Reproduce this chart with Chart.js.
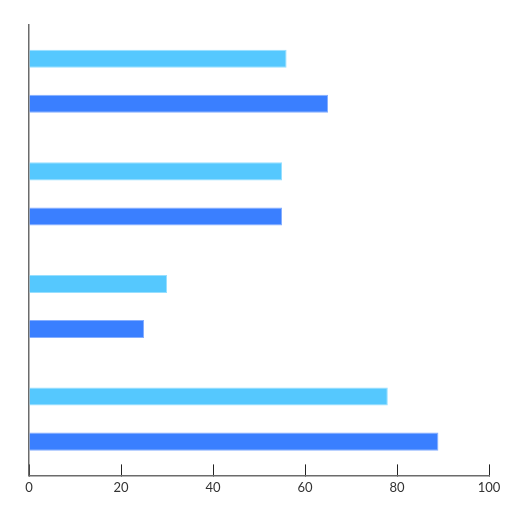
<!DOCTYPE html>
<html>
<head>
<meta charset="utf-8">
<script src="https://cdn.jsdelivr.net/npm/chart.js@4/dist/chart.umd.min.js"></script>
<style>
  html, body { margin: 0; padding: 0; background: #fff; }
  #wrap { width: 520px; height: 520px; }
</style>
</head>
<body>
<div id="wrap"><canvas id="chart"></canvas></div>
<script>
// === Data ===
const categories = ["A", "B", "C", "D"];
const lightValues = [56, 55, 30, 78];
const darkValues = [65, 55, 25, 89];
const xTicks = [0, 20, 40, 60, 80, 100];

const ctx = document.getElementById("chart").getContext("2d");

new Chart(ctx, {
  type: "bar",
  data: {
    labels: categories,
    datasets: [
      {
        label: "Series 1",
        data: lightValues,
        backgroundColor: "#55c8fe",
        borderColor: "rgba(140, 220, 255, 0.9)",
        borderWidth: 1
      },
      {
        label: "Series 2",
        data: darkValues,
        backgroundColor: "#3a7fff",
        borderColor: "rgba(120, 165, 255, 0.9)",
        borderWidth: 1
      }
    ]
  },
  options: {
    indexAxis: "y",
    responsive: true,
    maintainAspectRatio: false,
    animation: false,
    categoryPercentage: 0.8,
    barPercentage: 0.4,
    layout: { padding: { left: 21, right: 31, top: 25, bottom: 8 } },
    plugins: {
      legend: { display: false },
      tooltip: { enabled: false }
    },
    scales: {
      x: {
        min: 0,
        max: 100,
        afterBuildTicks(scale) {
          scale.ticks = xTicks.map(v => ({ value: v }));
        },
        border: { display: true, color: "#6b6b6b", width: 1.5 },
        grid: {
          drawOnChartArea: false,
          drawTicks: true,
          tickLength: -11,
          tickColor: "#222",
          tickWidth: 1
        },
        ticks: {
          padding: 16,
          color: "#333",
          font: { family: "Lato, 'Noto Sans', sans-serif", size: 13 }
        }
      },
      y: {
        border: { display: true, color: "#6b6b6b", width: 1.5 },
        grid: { display: false },
        ticks: { display: false }
      }
    }
  }
});
</script>
</body>
</html>
